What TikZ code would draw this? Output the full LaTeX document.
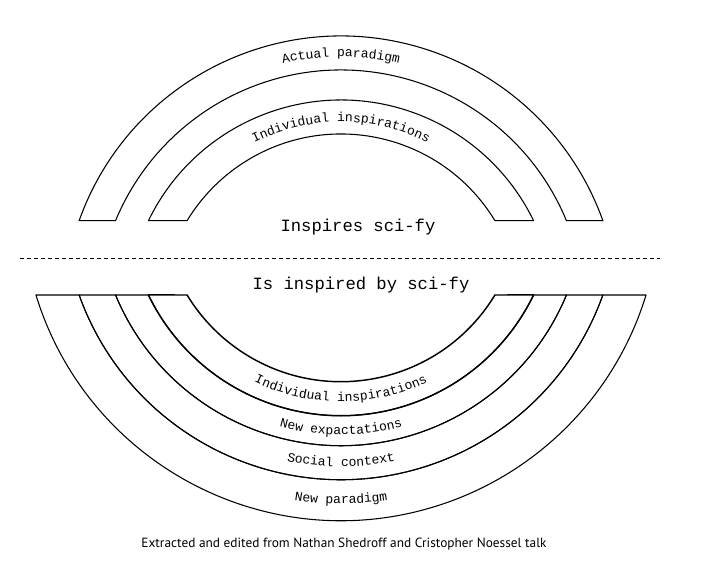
\documentclass[tikz,border=0pt]{standalone}
\usepackage{fontspec}
\setmainfont{Liberation Serif}
\newfontfamily\monofont{Liberation Mono}
\newfontfamily\capfont{PT Sans}
\usetikzlibrary{decorations.text}
\newcommand\labfont{\monofont\fontsize{9.75}{11}\selectfont}
\newcommand\titlefont{\monofont\fontsize{12.9}{14}\selectfont}
\begin{document}
\begin{tikzpicture}[x=0.75pt,y=0.75pt,line join=round,
  ring/.style={draw=black,line width=0.8pt},
  heavyring/.style={draw=black,line width=1.1pt},
  sep/.style={draw=black,line width=0.8pt,dash pattern=on 3pt off 2.25pt},
  title/.style={font=\titlefont,inner sep=0pt},
  caption/.style={font=\capfont\fontsize{10}{12}\selectfont,inner sep=0pt}]
\useasboundingbox (0,0) rectangle (701,566);
\fill[white] (0,0) rectangle (701,566);
\coordinate (ct) at (341,252);
\coordinate (cb) at (341,364.3);
\def\h{93.3}
% upper half: two bands
\foreach \ro/\ri in {278/244,214/180}{
  \pgfmathsetmacro\ao{asin(\h/\ro)}
  \pgfmathsetmacro\ai{asin(\h/\ri)}
  \draw[ring] ([shift={(ct)}]180-\ao:\ro) arc[start angle=180-\ao,end angle=\ao,radius=\ro]
    -- ([shift={(ct)}]\ai:\ri) arc[start angle=\ai,end angle=180-\ai,radius=\ri] -- cycle;
}
% lower half: four adjacent bands
\foreach \ro/\ri/\st in {319/278/ring,278/244/ring,244/214/ring,214/180/heavyring}{
  \pgfmathsetmacro\ao{asin(\h/\ro)}
  \pgfmathsetmacro\ai{asin(\h/\ri)}
  \draw[\st] ([shift={(cb)}]180+\ao:\ro) arc[start angle=180+\ao,end angle=360-\ao,radius=\ro]
    -- ([shift={(cb)}]360-\ai:\ri) arc[start angle=360-\ai,end angle=180+\ai,radius=\ri] -- cycle;
}
% labels along the arcs (upper)
\path[decorate,decoration={text along path,text align=center,text={|\labfont|Actual paradigm}}]
  ([shift={(ct)}]180:257) arc[start angle=180,end angle=0,radius=257];
\path[decorate,decoration={text along path,text align=center,text={|\labfont|Individual inspirations}}]
  ([shift={(ct)}]180:192) arc[start angle=180,end angle=0,radius=192];
% labels along the arcs (lower)
\path[decorate,decoration={text along path,text align=center,text={|\labfont|Individual inspirations}}]
  ([shift={(cb)}]180:200) arc[start angle=180,end angle=360,radius=200];
\path[decorate,decoration={text along path,text align=center,text={|\labfont|New expactations}}]
  ([shift={(cb)}]180:233) arc[start angle=180,end angle=360,radius=233];
\path[decorate,decoration={text along path,text align=center,text={|\labfont|Social context}}]
  ([shift={(cb)}]180:265) arc[start angle=180,end angle=360,radius=265];
\path[decorate,decoration={text along path,text align=center,text={|\labfont|New paradigm}}]
  ([shift={(cb)}]180:302) arc[start angle=180,end angle=360,radius=302];
% titles and separator
\node[title] (insp) at (358,339) {Inspires sci-fy};
\node[title] (isinsp) at (361,281) {Is inspired by sci-fy};
\coordinate (sepL) at (20,307.7);
\coordinate (sepR) at (660,307.7);
\draw[sep] (sepL) -- (sepR);
\node[caption] (cap) at (344,22) {Extracted and edited from Nathan Shedroff and Cristopher Noessel talk};
\end{tikzpicture}
\end{document}
